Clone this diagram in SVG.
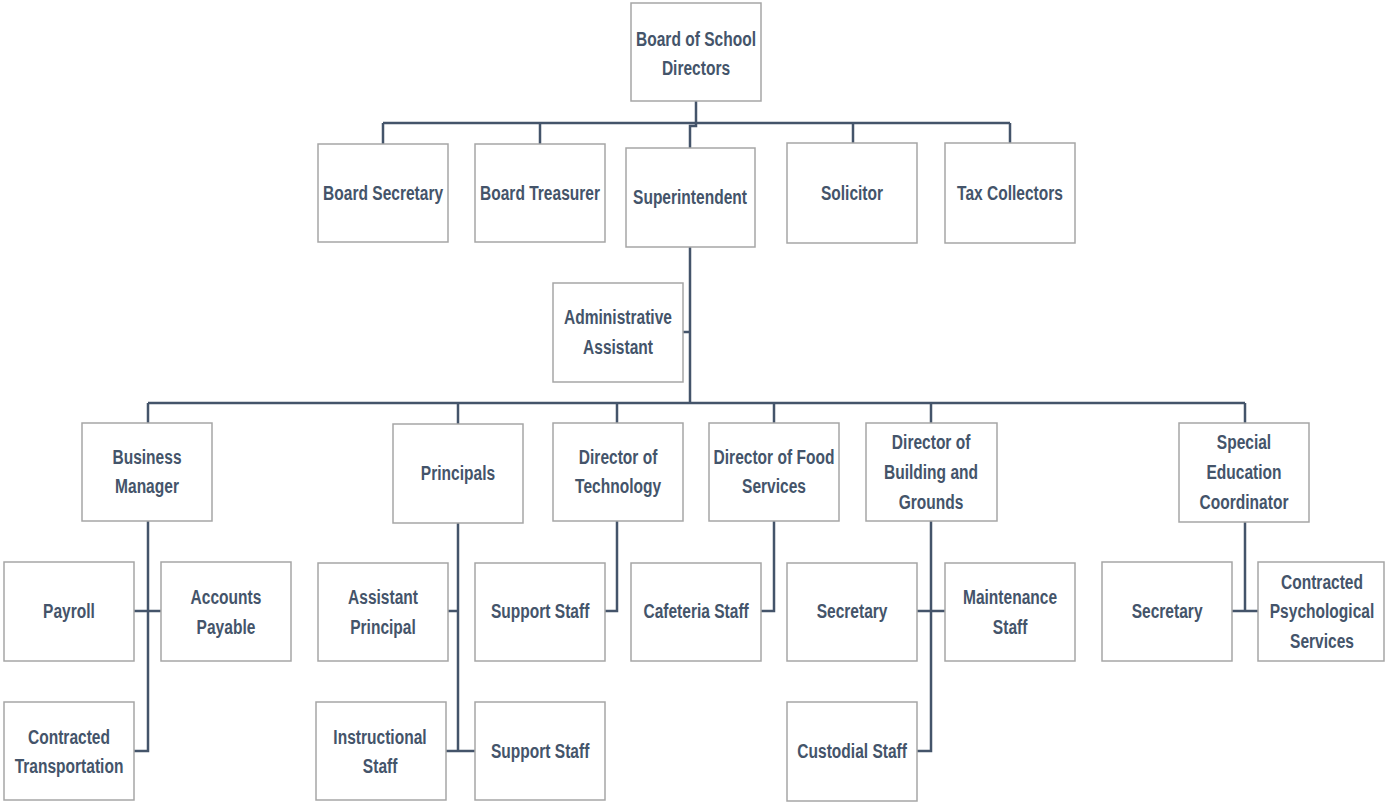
<svg xmlns="http://www.w3.org/2000/svg" width="1385" height="802" viewBox="0 0 1385 802">
<style>
.box{fill:#ffffff;stroke:#a6a6a6;stroke-width:1.5}
.t{font-family:"Liberation Sans",Arial,sans-serif;font-weight:bold;font-size:21px;fill:#44546a;text-anchor:middle;transform-box:fill-box;transform-origin:center;transform:scaleX(0.74)}
.c{fill:none;stroke:#44546a;stroke-width:2.5}
</style>
<rect width="1385" height="802" fill="#ffffff"/>
<g id="connectors">
<path class="c" d="M696,101 V123 M383,123 H1010 M383,123 V144 M540,123 V144 M696,123 V126 H690 V148 M853,123 V143 M1010,123 V143"/>
<path class="c" d="M690,247 V403 M683,332 H690 M148,403 H1245 M148,403 V423 M458,403 V424 M617,403 V423 M774,403 V423 M931,403 V423 M1245,403 V423"/>
<path class="c" d="M148,521 V751 H134 M134,611 H161"/>
<path class="c" d="M458,523 V751 M448,611 H458 M446,751 H475"/>
<path class="c" d="M617,521 V611 H605"/>
<path class="c" d="M774,521 V611 H761"/>
<path class="c" d="M931,521 V751 H917 M917,611 H945"/>
<path class="c" d="M1245,522 V611 M1232,611 H1258"/>
</g>
<g id="board"><rect class="box" x="631" y="3" width="130" height="98"/><text class="t" x="696" y="46">Board of School</text><text class="t" x="696" y="75">Directors</text></g>
<g id="board-secretary"><rect class="box" x="318" y="144" width="130" height="98"/><text class="t" x="383" y="200">Board Secretary</text></g>
<g id="board-treasurer"><rect class="box" x="475" y="144" width="130" height="98"/><text class="t" x="540" y="200">Board Treasurer</text></g>
<g id="superintendent"><rect class="box" x="626" y="148" width="129" height="99"/><text class="t" x="690" y="204">Superintendent</text></g>
<g id="solicitor"><rect class="box" x="787" y="143" width="130" height="100"/><text class="t" x="852" y="200">Solicitor</text></g>
<g id="tax-collectors"><rect class="box" x="945" y="143" width="130" height="100"/><text class="t" x="1010" y="200">Tax Collectors</text></g>
<g id="admin-assistant"><rect class="box" x="553" y="283" width="130" height="99"/><text class="t" x="618" y="324">Administrative</text><text class="t" x="618" y="354">Assistant</text></g>
<g id="business-manager"><rect class="box" x="82" y="423" width="130" height="98"/><text class="t" x="147" y="464">Business</text><text class="t" x="147" y="493">Manager</text></g>
<g id="principals"><rect class="box" x="393" y="424" width="130" height="99"/><text class="t" x="458" y="480">Principals</text></g>
<g id="dir-technology"><rect class="box" x="553" y="423" width="130" height="98"/><text class="t" x="618" y="464">Director of</text><text class="t" x="618" y="493">Technology</text></g>
<g id="dir-food"><rect class="box" x="709" y="423" width="130" height="98"/><text class="t" x="774" y="464">Director of Food</text><text class="t" x="774" y="493">Services</text></g>
<g id="dir-building"><rect class="box" x="866" y="423" width="131" height="98"/><text class="t" x="931" y="449">Director of</text><text class="t" x="931" y="479">Building and</text><text class="t" x="931" y="509">Grounds</text></g>
<g id="sped-coordinator"><rect class="box" x="1179" y="423" width="130" height="99"/><text class="t" x="1244" y="449">Special</text><text class="t" x="1244" y="479">Education</text><text class="t" x="1244" y="509">Coordinator</text></g>
<g id="payroll"><rect class="box" x="4" y="562" width="130" height="99"/><text class="t" x="69" y="618">Payroll</text></g>
<g id="accounts-payable"><rect class="box" x="161" y="562" width="130" height="99"/><text class="t" x="226" y="604">Accounts</text><text class="t" x="226" y="634">Payable</text></g>
<g id="contracted-transportation"><rect class="box" x="4" y="702" width="130" height="98"/><text class="t" x="69" y="744">Contracted</text><text class="t" x="69" y="773">Transportation</text></g>
<g id="assistant-principal"><rect class="box" x="318" y="563" width="130" height="98"/><text class="t" x="383" y="604">Assistant</text><text class="t" x="383" y="634">Principal</text></g>
<g id="instructional-staff"><rect class="box" x="316" y="702" width="130" height="98"/><text class="t" x="380" y="744">Instructional</text><text class="t" x="380" y="773">Staff</text></g>
<g id="support-staff-principals"><rect class="box" x="475" y="702" width="130" height="98"/><text class="t" x="540" y="758">Support Staff</text></g>
<g id="support-staff-tech"><rect class="box" x="475" y="563" width="130" height="98"/><text class="t" x="540" y="618">Support Staff</text></g>
<g id="cafeteria-staff"><rect class="box" x="631" y="563" width="130" height="98"/><text class="t" x="696" y="618">Cafeteria Staff</text></g>
<g id="secretary-bg"><rect class="box" x="787" y="563" width="130" height="98"/><text class="t" x="852" y="618">Secretary</text></g>
<g id="maintenance-staff"><rect class="box" x="945" y="563" width="130" height="98"/><text class="t" x="1010" y="604">Maintenance</text><text class="t" x="1010" y="634">Staff</text></g>
<g id="custodial-staff"><rect class="box" x="787" y="702" width="130" height="99"/><text class="t" x="852" y="758">Custodial Staff</text></g>
<g id="secretary-sped"><rect class="box" x="1102" y="562" width="130" height="99"/><text class="t" x="1167" y="618">Secretary</text></g>
<g id="contracted-psych"><rect class="box" x="1258" y="562" width="126" height="99"/><text class="t" x="1322" y="589">Contracted</text><text class="t" x="1322" y="618">Psychological</text><text class="t" x="1322" y="648">Services</text></g>
</svg>
